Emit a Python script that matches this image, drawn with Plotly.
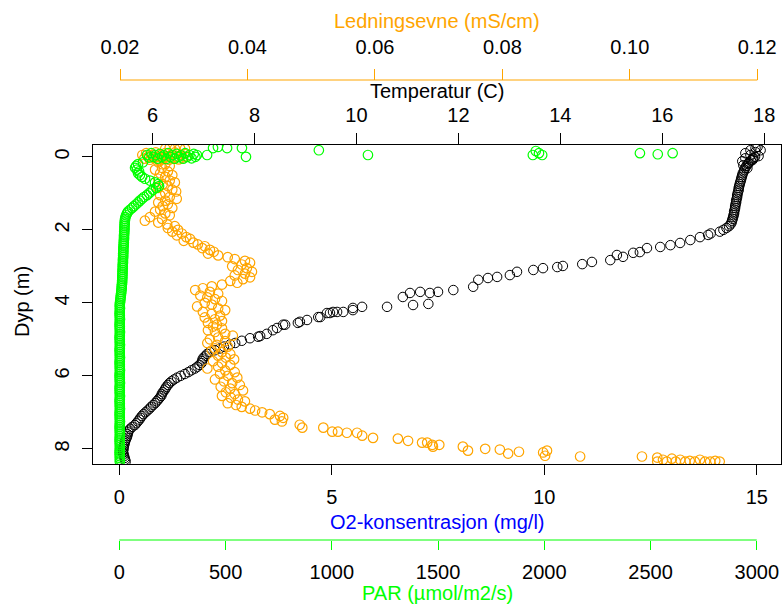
import plotly.graph_objects as go

# ---------------- data ----------------
# Temperature (C) vs depth (m)
temp_depth = [
    -0.27, -0.18, -0.13, -0.05, -0.02, 0.04, 0.09, 0.17, 0.23, -0.24, -0.18, -0.10, 0.04, 0.12, 0.31,
    0.00, 0.05, 0.10, 0.15, 0.20, 0.25, 0.30, 0.35, 0.40, 0.45, 0.50, 0.55, 0.60, 0.65, 0.70, 0.75,
    0.80, 0.85, 0.90, 0.95, 1.00, 1.05, 1.10, 1.15, 1.20, 1.25, 1.30, 1.35, 1.40, 1.45, 1.50, 1.55,
    1.60, 1.65, 1.70, 1.75, 1.80, 1.85, 1.90, 1.95, 2.00, 2.05, 2.10,
    2.14, 2.20, 2.28, 2.36, 2.42, 2.47, 2.50, 2.61, 2.63, 2.69, 2.74, 2.83, 2.88, 2.94, 2.99, 3.02,
    3.05, 3.10, 3.15, 3.24, 3.29, 3.32, 3.37, 3.56, 3.65, 3.70, 3.73, 3.70, 3.73, 3.84, 4.03, 4.06,
    4.11, 4.11, 4.14, 4.20, 4.25, 4.25, 4.25, 4.28, 4.28, 4.39, 4.39, 4.47, 4.52, 4.55, 4.60, 4.60,
    4.69, 4.75, 4.85, 4.91, 4.93, 4.97, 5.04, 5.10, 5.14,
    5.20, 5.25, 5.30, 5.35, 5.40, 5.45, 5.50, 5.55, 5.60, 5.65, 5.70, 5.75, 5.80, 5.85, 5.90, 5.95,
    6.00, 6.05, 6.10, 6.15, 6.20, 6.25, 6.30, 6.35, 6.40, 6.45, 6.50, 6.55, 6.60, 6.65, 6.70, 6.75,
    6.80, 6.85, 6.90, 6.95, 7.00, 7.05, 7.10, 7.15, 7.20, 7.25, 7.30, 7.35, 7.40, 7.45, 7.50, 7.55,
    7.60, 7.65, 7.70, 7.75, 7.80, 7.85, 7.90, 7.95, 8.00, 8.05, 8.10, 8.15, 8.20, 8.25, 8.30, 8.35,
]
temp_c = [
    17.87, 17.93, 17.83, 17.73, 17.89, 17.63, 17.77, 17.69, 17.59, 17.83, 17.73, 17.63, 17.79, 17.57, 17.67,
    17.82, 17.78, 17.74, 17.71, 17.68, 17.65, 17.63, 17.61, 17.60, 17.58, 17.57, 17.56, 17.55, 17.54, 17.53, 17.52,
    17.51, 17.50, 17.50, 17.49, 17.48, 17.47, 17.47, 17.46, 17.45, 17.45, 17.44, 17.43, 17.43, 17.42, 17.41, 17.41,
    17.40, 17.39, 17.38, 17.37, 17.36, 17.34, 17.31, 17.26, 17.20, 17.13, 16.95,
    16.90, 16.74, 16.55, 16.35, 16.16, 15.96, 15.70, 15.56, 15.43, 15.11, 15.23, 14.98, 14.62, 14.43, 14.05, 13.94,
    13.66, 13.47, 13.15, 13.01, 12.76, 12.58, 12.39, 12.29, 11.90, 11.60, 11.44, 11.25, 11.05, 10.91, 11.41, 11.11,
    10.60, 10.11, 9.93, 9.93, 9.74, 9.62, 9.54, 9.48, 9.42, 9.29, 9.25, 9.03, 8.89, 8.85, 8.60, 8.56,
    8.44, 8.36, 8.24, 8.11, 8.07, 7.91, 7.75, 7.62, 7.52,
    7.40, 7.32, 7.22, 7.12, 7.07, 7.04, 7.00, 6.98, 6.97, 6.96, 6.92, 6.88, 6.83, 6.76, 6.70, 6.63,
    6.55, 6.48, 6.42, 6.37, 6.33, 6.30, 6.27, 6.25, 6.23, 6.20, 6.18, 6.17, 6.14, 6.11, 6.08, 6.05,
    6.01, 5.97, 5.94, 5.90, 5.86, 5.82, 5.79, 5.76, 5.74, 5.71, 5.68, 5.65, 5.60, 5.56, 5.53, 5.52,
    5.51, 5.50, 5.49, 5.47, 5.46, 5.45, 5.44, 5.43, 5.43, 5.42, 5.42, 5.43, 5.44, 5.45, 5.46, 5.47,
]

# Conductivity (mS/cm) vs depth (m)
cond_depth = [
    -0.05, 0.05, -0.10, 0.00, 0.08, -0.05, 0.03, -0.12, 0.00, 0.10, -0.06, 0.04, -0.10, 0.00, 0.08, -0.04,
    0.05, -0.12, 0.00, 0.07, -0.05, 0.02, -0.08, 0.00, -0.22, -0.25, -0.22, -0.24, -0.22,
    0.05, 0.10, 0.15, 0.20, 0.25, 0.30, 0.35, 0.40, 0.45, 0.50, 0.55, 0.60, 0.65, 0.70, 0.75, 0.80,
    0.85, 0.90, 0.95, 1.00, 1.05, 1.10, 1.15, 1.20, 1.25, 1.30, 1.35, 1.40, 1.45, 1.50, 1.55, 1.60,
    1.65, 1.70, 1.75, 1.80, 1.85, 1.90, 1.95, 2.00, 2.05, 2.10, 2.15, 2.20, 2.25, 2.30, 2.35, 2.40,
    2.45, 2.50, 2.55, 2.60, 2.65, 2.70, 2.75, 2.80, 2.85, 2.90, 2.95, 3.00, 3.05, 3.10, 3.15, 3.20,
    3.25, 3.30, 3.35, 3.40, 3.45, 3.50, 3.55, 3.60, 3.65, 3.70, 3.75, 3.80, 3.85, 3.90, 3.95, 4.00,
    4.05, 4.10, 4.15, 4.20, 4.25, 4.30, 4.35, 4.40, 4.45, 4.50, 4.55, 4.60, 4.65, 4.70, 4.75, 4.80,
    4.85, 4.90, 4.95, 5.00, 5.05, 5.10, 5.15, 5.20, 5.25, 5.30, 5.35, 5.40, 5.45, 5.50, 5.55, 5.60,
    5.65, 5.70, 5.75, 5.80, 5.85, 5.90, 5.95, 6.00, 6.05, 6.10, 6.15, 6.20, 6.25, 6.30, 6.35, 6.40,
    6.45, 6.50, 6.55, 6.60, 6.65, 6.70, 6.75, 6.80, 6.85, 6.90, 6.95, 7.00, 7.05, 7.10, 7.15, 7.20, 7.25,
    7.34, 7.42, 7.42, 7.53, 7.53, 7.56, 7.56, 7.64, 7.70, 7.72, 7.78, 7.83, 7.83, 7.89, 7.94, 7.89,
    7.94, 8.05, 8.00, 8.02, 8.13, 8.08, 8.10, 8.19, 8.05, 8.21, 8.21, 8.24, 8.35, 8.30, 8.35, 8.27,
    8.35, 8.30, 8.35, 8.33, 8.35, 8.30, 8.35, 8.35, 8.33, 8.35,
]
cond_ms = [
    0.0235, 0.0238, 0.0241, 0.0244, 0.0247, 0.0250, 0.0253, 0.0256, 0.0259, 0.0262, 0.0265, 0.0268, 0.0271, 0.0274, 0.0277, 0.0280,
    0.0283, 0.0286, 0.0289, 0.0292, 0.0295, 0.0298, 0.0301, 0.0304, 0.0271, 0.0278, 0.0286, 0.0294, 0.0302,
    0.0267, 0.0263, 0.0260, 0.0271, 0.0278, 0.0266, 0.0255, 0.0275, 0.0263, 0.0282, 0.0271, 0.0260, 0.0278, 0.0286, 0.0267, 0.0275,
    0.0260, 0.0282, 0.0288, 0.0271, 0.0263, 0.0278, 0.0289, 0.0271, 0.0260, 0.0275, 0.0267, 0.0282, 0.0263, 0.0255, 0.0271, 0.0278,
    0.0247, 0.0266, 0.0239, 0.0260, 0.0274, 0.0286, 0.0275, 0.0291, 0.0282, 0.0297, 0.0289, 0.0304, 0.0310, 0.0300, 0.0315, 0.0322,
    0.0333, 0.0329, 0.0341, 0.0347, 0.0338, 0.0354, 0.0369, 0.0380, 0.0396, 0.0404, 0.0391, 0.0376, 0.0399, 0.0385, 0.0407, 0.0396,
    0.0380, 0.0404, 0.0393, 0.0373, 0.0384, 0.0360, 0.0344, 0.0330, 0.0318, 0.0341, 0.0354, 0.0326, 0.0337, 0.0349, 0.0360, 0.0333,
    0.0344, 0.0321, 0.0354, 0.0365, 0.0330, 0.0344, 0.0357, 0.0333, 0.0349, 0.0360, 0.0338, 0.0352, 0.0346, 0.0360, 0.0338, 0.0349,
    0.0365, 0.0377, 0.0354, 0.0341, 0.0365, 0.0337, 0.0352, 0.0369, 0.0349, 0.0344, 0.0360, 0.0373, 0.0354, 0.0366, 0.0379, 0.0346,
    0.0360, 0.0373, 0.0354, 0.0337, 0.0365, 0.0380, 0.0357, 0.0369, 0.0384, 0.0349, 0.0363, 0.0376, 0.0388, 0.0358, 0.0373, 0.0393,
    0.0366, 0.0380, 0.0360, 0.0374, 0.0385, 0.0396, 0.0369, 0.0382, 0.0391, 0.0404, 0.0412, 0.0423, 0.0435, 0.0451, 0.0456, 0.0443, 0.0454,
    0.0482, 0.0486, 0.0519, 0.0533, 0.0542, 0.0556, 0.0572, 0.0580, 0.0597, 0.0636, 0.0652, 0.0674, 0.0682, 0.0690, 0.0691, 0.0701,
    0.0738, 0.0746, 0.0773, 0.0796, 0.0809, 0.0826, 0.0864, 0.0867, 0.0870, 0.0922, 0.1019, 0.1043, 0.1043, 0.1052, 0.1058, 0.1066,
    0.1072, 0.1079, 0.1087, 0.1094, 0.1102, 0.1110, 0.1118, 0.1126, 0.1134, 0.1141,
]

# PAR (umol/m2/s) vs depth (m)
par_depth = [
    -0.05, 0.02, -0.10, 0.00, -0.05, 0.05, -0.08, 0.00, -0.04, 0.06, -0.10, 0.00, -0.05, 0.05, -0.08, 0.00,
    -0.04, 0.05, -0.10, 0.00, -0.05, 0.04, -0.08, 0.00, -0.05,
    -0.05, -0.24, -0.27, -0.24, -0.24, 0.00, -0.18, -0.05, -0.05, -0.16, -0.10, -0.05, -0.10, -0.07, -0.10,
    0.15, 0.20, 0.25, 0.30, 0.35, 0.40, 0.45, 0.50, 0.55, 0.60, 0.65, 0.70, 0.75, 0.80, 0.85, 0.90,
    0.95, 1.00, 1.05, 1.10, 1.15, 1.20, 1.25, 1.30, 1.35, 1.40, 1.45, 1.50, 1.55, 1.60, 1.65, 1.70,
    1.75, 1.80, 1.85, 1.90, 1.95, 2.00, 2.05, 2.10, 2.15, 2.20, 2.25, 2.30, 2.35, 2.40, 2.45, 2.50,
    2.55, 2.60, 2.65, 2.70, 2.75, 2.80, 2.85, 2.90, 2.95, 3.00, 3.05, 3.10, 3.15, 3.20, 3.25, 3.30,
    3.35, 3.40, 3.45, 3.50, 3.55, 3.60, 3.65, 3.70, 3.75, 3.80, 3.85, 3.90, 3.95, 4.00, 4.05, 4.10,
    4.15, 4.20, 4.25, 4.30, 4.35, 4.40, 4.45, 4.50, 4.55, 4.60, 4.65, 4.70, 4.75, 4.80, 4.85, 4.90,
    4.95, 5.00, 5.05, 5.10, 5.15, 5.20, 5.25, 5.30, 5.35, 5.40, 5.45, 5.50, 5.55, 5.60, 5.65, 5.70,
    5.75, 5.80, 5.85, 5.90, 5.95, 6.00, 6.05, 6.10, 6.15, 6.20, 6.25, 6.30, 6.35, 6.40, 6.45, 6.50,
    6.55, 6.60, 6.65, 6.70, 6.75, 6.80, 6.85, 6.90, 6.95, 7.00, 7.05, 7.10, 7.15, 7.20, 7.25, 7.30,
    7.35, 7.40, 7.45, 7.50, 7.55, 7.60, 7.65, 7.70, 7.75, 7.80, 7.85, 7.90, 7.95, 8.00, 8.05, 8.10,
    8.15, 8.20, 8.25, 8.30, 8.35,
]
par_umol = [
    130, 140, 150, 160, 170, 180, 190, 200, 210, 220, 230, 240, 250, 260, 270, 280,
    290, 300, 310, 320, 330, 340, 350, 358, 365,
    413, 441, 464, 507, 577, 596, 939, 1170, 1946, 1960, 1975, 1990, 2450, 2534, 2604,
    111, 88, 79, 74, 83, 93, 88, 97, 107, 121, 144, 168, 182, 187, 173, 158,
    149, 140, 130, 116, 107, 97, 88, 79, 69, 60, 50, 41, 36, 32, 29, 27,
    26, 25, 25, 24, 24, 24, 23, 23, 22, 22, 22, 21, 21, 20, 20, 19,
    19, 19, 18, 18, 18, 17, 17, 17, 16, 16, 16, 15, 15, 15, 14, 14,
    14, 13, 13, 12, 11, 11, 10, 9, 8, 7, 6, 5, 4, 3, 2, 2,
    3, 2, 2, 1, 2, 2, 3, 2, 2, 1, 2, 2, 2, 3, 2, 2,
    1, 2, 2, 2, 3, 2, 2, 1, 2, 2, 2, 3, 2, 2, 1, 2,
    2, 2, 3, 2, 2, 1, 2, 2, 2, 3, 2, 2, 1, 2, 2, 2,
    3, 2, 2, 1, 2, 2, 2, 3, 2, 2, 1, 2, 2, 2, 3, 2,
    2, 1, 2, 2, 2, 3, 2, 2, 1, 2, 2, 2, 3, 2, 2, 1,
    2, 2, 2, 3, 2,
]

o2_ticks = [0, 5, 10, 15]
temp_ticks = [6, 8, 10, 12, 14, 16, 18]
cond_ticks = [0.02, 0.04, 0.06, 0.08, 0.10, 0.12]
cond_ticktext = ["0.02", "0.04", "0.06", "0.08", "0.10", "0.12"]
par_ticks = [0, 500, 1000, 1500, 2000, 2500, 3000]
depth_ticks = [0, 2, 4, 6, 8]

# ---------------- styling ----------------
W, H = 782, 610
FONT = "Liberation Sans, Arial, sans-serif"
FS = 20
ORANGE = "#FFA500"
GREEN = "#00FF00"
BLUE = "#0000FF"
BLACK = "#000000"

px_left, px_right, px_top, px_bottom = 93, 781, 145, 464.3
xdom = [px_left / W, px_right / W]
ydom = [1 - px_bottom / H, 1 - px_top / H]

def py(p):
    return 1 - p / H

def px(p):
    return p / W

marker_common = dict(symbol="circle-open", size=9.5)

fig = go.Figure()
fig.add_trace(go.Scatter(x=[], y=[], xaxis="x", yaxis="y", showlegend=False, hoverinfo="skip"))
fig.add_trace(go.Scatter(x=par_umol, y=par_depth, xaxis="x4", yaxis="y", mode="markers",
                         marker=dict(color=GREEN, line=dict(width=1.2, color=GREEN), **marker_common),
                         showlegend=False))
fig.add_trace(go.Scatter(x=cond_ms, y=cond_depth, xaxis="x3", yaxis="y", mode="markers",
                         marker=dict(color=ORANGE, line=dict(width=1.2, color=ORANGE), **marker_common),
                         showlegend=False))
fig.add_trace(go.Scatter(x=temp_c, y=temp_depth, xaxis="x2", yaxis="y", mode="markers",
                         marker=dict(color=BLACK, line=dict(width=1.0, color=BLACK), **marker_common),
                         showlegend=False))

tickfont = dict(family=FONT, size=FS, color=BLACK)
common = dict(showgrid=False, zeroline=False, automargin=False, ticks="outside", tickfont=tickfont,
              tickmode="array", tickwidth=1)

fig.update_layout(
    width=W, height=H, margin=dict(l=0, r=0, t=0, b=0),
    paper_bgcolor="white", plot_bgcolor="white", showlegend=False,
    font=dict(family=FONT, size=FS, color=BLACK),
    xaxis=dict(domain=xdom, range=[-0.62, 15.57], anchor="y", side="bottom", tickvals=o2_ticks,
               ticklen=10, tickcolor=BLACK, showline=True, linecolor=BLACK, linewidth=1, mirror=True,
               ticklabelstandoff=5, **common),
    xaxis2=dict(overlaying="x", side="top", anchor="y", range=[4.83, 18.33], tickvals=temp_ticks,
                ticklen=11, tickcolor=BLACK, showline=False, ticklabelstandoff=3, **common),
    xaxis3=dict(overlaying="x", side="top", anchor="free", position=py(80), range=[0.01576, 0.12372],
                tickvals=cond_ticks, ticktext=cond_ticktext, ticklen=11, tickcolor=ORANGE,
                showline=False, ticklabelstandoff=7, **common),
    xaxis4=dict(overlaying="x", side="bottom", anchor="free", position=py(540), range=[-124, 3114],
                tickvals=par_ticks, ticklen=9, tickcolor=GREEN, showline=False, ticklabelstandoff=5,
                **common),
    yaxis=dict(domain=ydom, range=[8.424, -0.324], anchor="x", tickvals=depth_ticks, ticklen=10,
               tickcolor=BLACK, tickangle=-90, showline=True, linecolor=BLACK, linewidth=1, mirror=True,
               ticklabelstandoff=5, **common),
)

fig.add_shape(type="line", xref="x3", yref="paper", x0=0.02, x1=0.12, y0=py(80), y1=py(80),
              line=dict(color=ORANGE, width=1))
fig.add_shape(type="line", xref="x4", yref="paper", x0=0, x1=3000, y0=py(540), y1=py(540),
              line=dict(color=GREEN, width=1))

cx = px((px_left + px_right) / 2)
def title(text, x, y, color, angle=0):
    fig.add_annotation(text=text, x=x, y=y, xref="paper", yref="paper", showarrow=False,
                       xanchor="center", yanchor="middle", textangle=angle,
                       font=dict(family=FONT, size=FS, color=color))

title("Ledningsevne (mS/cm)", cx, py(21), ORANGE)
title("Temperatur (C)", cx, py(91), BLACK)
title("O2-konsentrasjon (mg/l)", cx, py(522), BLUE)
title("PAR (µmol/m2/s)", cx, py(593), GREEN)
title("Dyp (m)", px(22), py(302), BLACK, angle=-90)

fig.write_html("out.html")
